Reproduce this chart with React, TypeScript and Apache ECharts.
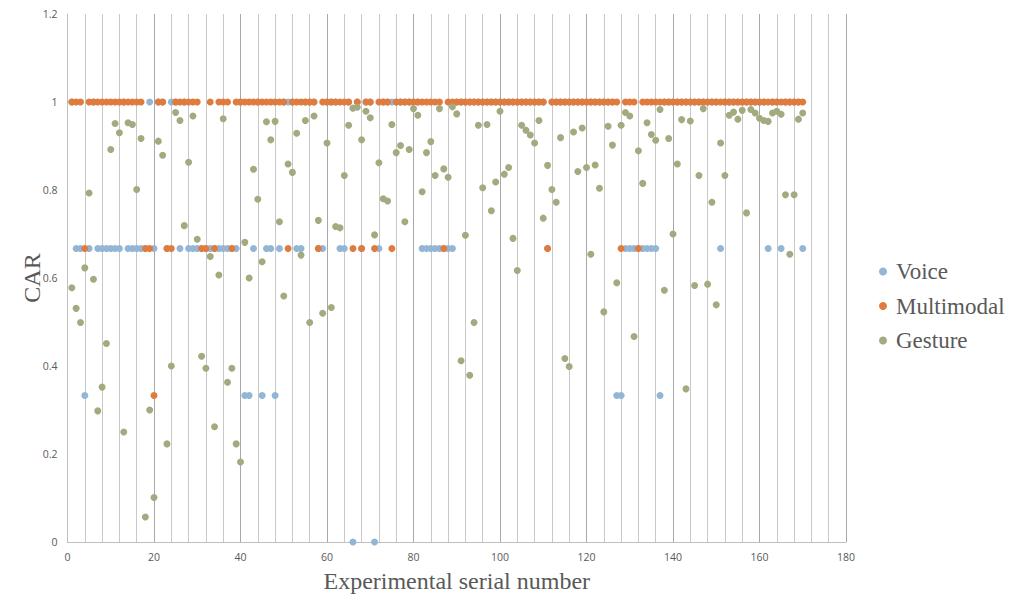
import React, { useEffect, useRef } from "react";
import * as echarts from "echarts";

const xTicks = { min: 0, max: 180, interval: 20 };
const yTicks = { min: 0, max: 1.2, interval: 0.2 };

const voice = [
  1, 0.667, 0.667, 0.333, 0.667, 1, 0.667, 0.667, 0.667, 0.667,
  0.667, 0.667, 1, 0.667, 0.667, 0.667, 0.667, 0.667, 1, 0.667,
  1, 1, 0.667, 1, 1, 0.667, 1, 0.667, 0.667, 0.667,
  0.667, 0.667, 0.667, 0.667, 0.667, 0.667, 0.667, 0.667, 0.667, 1,
  0.333, 0.333, 0.667, 1, 0.333, 0.667, 0.667, 0.333, 0.667, 1,
  1, 1, 0.667, 0.667, 1, 1, 1, 0.667, 0.667, 1,
  1, 1, 0.667, 0.667, 1, 0, 1, 0.667, 1, 1,
  0, 0.667, 1, 1, 1, 1, 1, 1, 1, 1,
  1, 0.667, 0.667, 0.667, 0.667, 0.667, 0.667, 0.667, 0.667, 1,
  1, 1, 1, 1, 1, 1, 1, 1, 1, 1,
  1, 1, 1, 1, 1, 1, 1, 1, 1, 1,
  0.667, 1, 1, 1, 1, 1, 1, 1, 1, 1,
  1, 1, 1, 1, 1, 1, 0.333, 0.333, 0.667, 0.667,
  0.667, 0.667, 0.667, 0.667, 0.667, 0.667, 0.333, 1, 1, 1,
  1, 1, 1, 1, 1, 1, 1, 1, 1, 1,
  0.667, 1, 1, 1, 1, 1, 1, 1, 1, 1,
  1, 0.667, 1, 1, 0.667, 1, 1, 1, 1, 0.667,
];

const multimodal = [
  1, 1, 1, 0.667, 1, 1, 1, 1, 1, 1,
  1, 1, 1, 1, 1, 1, 1, 0.667, 0.667, 0.333,
  1, 1, 0.667, 0.667, 1, 1, 1, 1, 1, 1,
  0.667, 0.667, 1, 0.667, 1, 1, 1, 0.667, 1, 1,
  1, 1, 1, 1, 1, 1, 1, 1, 1, 1,
  0.667, 1, 1, 1, 1, 1, 1, 0.667, 1, 1,
  1, 1, 1, 1, 1, 0.667, 1, 0.667, 1, 1,
  0.667, 1, 1, 1, 0.667, 1, 1, 1, 1, 1,
  1, 1, 1, 1, 1, 1, 0.667, 1, 1, 1,
  1, 1, 1, 1, 1, 1, 1, 1, 1, 1,
  1, 1, 1, 1, 1, 1, 1, 1, 1, 1,
  0.667, 1, 1, 1, 1, 1, 1, 1, 1, 1,
  1, 1, 1, 1, 1, 1, 1, 0.667, 1, 1,
  1, 0.667, 1, 1, 1, 1, 1, 1, 1, 1,
  1, 1, 1, 1, 1, 1, 1, 1, 1, 1,
  1, 1, 1, 1, 1, 1, 1, 1, 1, 1,
  1, 1, 1, 1, 1, 1, 1, 1, 1, 1,
];

const gesture = [
  0.578, 0.531, 0.499, 0.623, 0.793, 0.597, 0.298, 0.352, 0.451, 0.892,
  0.951, 0.93, 0.25, 0.953, 0.949, 0.801, 0.917, 0.057, 0.3, 0.101,
  0.911, 0.879, 0.223, 0.4, 0.976, 0.958, 0.719, 0.863, 0.968, 0.688,
  0.422, 0.395, 0.649, 0.262, 0.607, 0.962, 0.363, 0.395, 0.223, 0.182,
  0.681, 0.6, 0.847, 0.779, 0.637, 0.955, 0.914, 0.956, 0.728, 0.559,
  0.859, 0.84, 0.929, 0.652, 0.958, 0.499, 0.968, 0.731, 0.52, 0.907,
  0.533, 0.717, 0.714, 0.833, 0.947, 0.986, 0.988, 0.914, 0.979, 0.964,
  0.698, 0.862, 0.78, 0.775, 0.949, 0.885, 0.901, 0.728, 0.892, 0.985,
  0.97, 0.796, 0.885, 0.91, 0.833, 0.985, 0.848, 0.829, 0.989, 0.973,
  0.412, 0.697, 0.379, 0.499, 0.947, 0.805, 0.949, 0.753, 0.818, 0.979,
  0.836, 0.851, 0.69, 0.617, 0.947, 0.936, 0.925, 0.907, 0.958, 0.736,
  0.856, 0.801, 0.772, 0.919, 0.417, 0.399, 0.932, 0.842, 0.941, 0.851,
  0.654, 0.857, 0.804, 0.523, 0.945, 0.902, 0.589, 0.947, 0.976, 0.968,
  0.467, 0.889, 0.815, 0.953, 0.926, 0.913, 0.983, 0.572, 0.917, 0.7,
  0.859, 0.96, 0.348, 0.957, 0.583, 0.833, 0.985, 0.586, 0.772, 0.539,
  0.907, 0.833, 0.97, 0.977, 0.961, 0.981, 0.748, 0.983, 0.975, 0.963,
  0.958, 0.956, 0.975, 0.979, 0.972, 0.789, 0.654, 0.789, 0.961, 0.975,
];

const seriesNames = ["Voice", "Multimodal", "Gesture"];
const seriesColors = ["#93B5D6", "#E07B3E", "#A4AA80"];
const xTitle = "Experimental serial number";
const yTitle = "CAR";

const toPoints = (vals: number[]) => vals.map((v, i) => [i + 1, v]);

export default function App() {
  const ref = useRef<HTMLDivElement>(null);
  useEffect(() => {
    if (!ref.current) return;
    const chart = echarts.init(ref.current, undefined, { renderer: "svg" });
    const textColor = "#595959";
    chart.setOption({
      animation: false,
      grid: { left: 67.5, right: 176, top: 14, bottom: 59, containLabel: false },
      legend: {
        orient: "vertical",
        left: 874,
        top: 255,
        itemWidth: 16,
        itemHeight: 8,
        itemGap: 11.5,
        icon: "circle",
        data: seriesNames,
        textStyle: {
          fontFamily: "Liberation Serif",
          fontSize: 23,
          lineHeight: 23,
          color: textColor,
        },
      },
      xAxis: {
        type: "value",
        min: xTicks.min,
        max: xTicks.max,
        interval: xTicks.interval,
        name: xTitle,
        nameLocation: "middle",
        nameGap: 27,
        nameMoveOverlap: false,
        nameTextStyle: { fontFamily: "Liberation Serif", fontSize: 24, color: textColor },
        axisLine: { show: true, lineStyle: { color: "#BFBFBF", width: 1 } },
        axisTick: { show: false },
        axisLabel: { color: textColor, fontFamily: "Open Sans", fontSize: 10.5, margin: 9 },
        splitLine: { show: true, lineStyle: { color: "#A8A8A8", width: 1 } },
        minorTick: { show: false, splitNumber: 5 },
        minorSplitLine: { show: true, lineStyle: { color: "#C8C8C8", width: 1 } },
      },
      yAxis: {
        type: "value",
        min: yTicks.min,
        max: yTicks.max,
        interval: yTicks.interval,
        name: yTitle,
        nameLocation: "middle",
        nameGap: 24,
        nameMoveOverlap: false,
        nameTextStyle: { fontFamily: "Liberation Serif", fontSize: 24, color: textColor },
        axisLine: { show: true, lineStyle: { color: "#BFBFBF", width: 1 } },
        axisTick: { show: false },
        splitLine: { show: false },
        axisLabel: {
          color: textColor,
          fontFamily: "Open Sans",
          fontSize: 10.5,
          margin: 10,
          formatter: (v: number) => String(+v.toFixed(1)),
        },
      },
      series: [voice, multimodal, gesture].map((vals, i) => ({
        name: seriesNames[i],
        type: "scatter",
        data: toPoints(vals),
        symbol: "circle",
        symbolSize: 7,
        itemStyle: { color: seriesColors[i], opacity: 1 },
        emphasis: { disabled: true },
      })),
    });
    return () => chart.dispose();
  }, []);
  return (
    <div
      ref={ref}
      style={{ position: "absolute", left: 0, top: 0, width: 1022, height: 601 }}
    />
  );
}
